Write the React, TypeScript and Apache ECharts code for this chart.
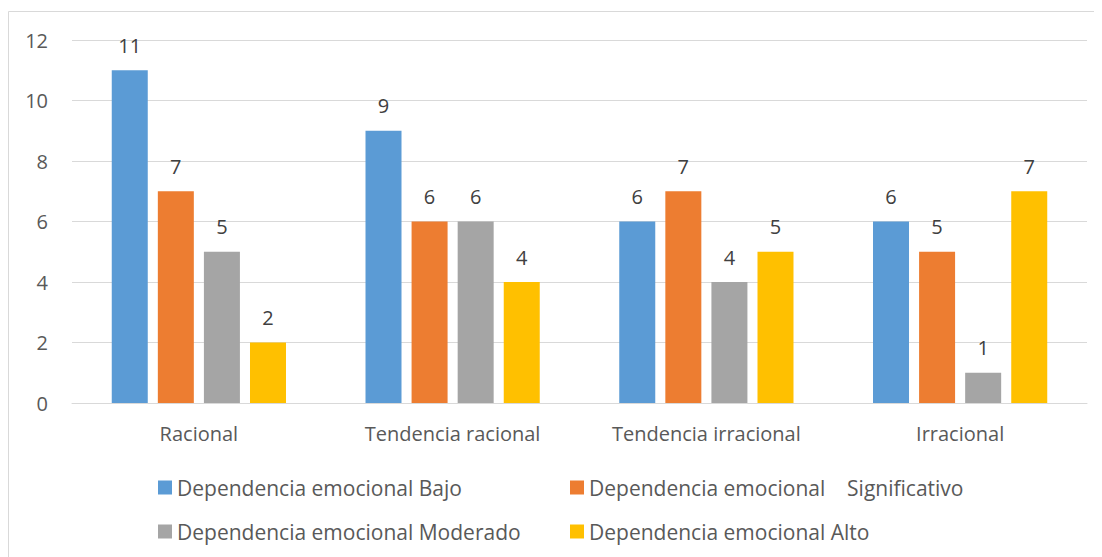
import React, { useEffect, useRef } from "react";
import * as echarts from "echarts";

const categories = ["Racional", "Tendencia racional", "Tendencia irracional", "Irracional"];
const seriesNames = [
  "Dependencia emocional Bajo",
  "Dependencia emocional    Significativo",
  "Dependencia emocional Moderado",
  "Dependencia emocional Alto",
];
const bajo = [11, 9, 6, 6];
const significativo = [7, 6, 7, 5];
const moderado = [5, 6, 4, 1];
const alto = [2, 4, 5, 7];
const yTicks = [0, 2, 4, 6, 8, 10, 12];

const colors = ["#5B9BD5", "#ED7D31", "#A5A5A5", "#FFC000"];
const FONT = "'Open Sans', sans-serif";

export default function App() {
  const ref = useRef<HTMLDivElement>(null);
  useEffect(() => {
    if (!ref.current) return;
    const chart = echarts.init(ref.current, undefined, { renderer: "svg" });
    const values = [bajo, significativo, moderado, alto];
    const legendPos = [
      { left: 150, top: 469 },
      { left: 562, top: 469 },
      { left: 150, top: 513 },
      { left: 562, top: 513 },
    ];
    chart.setOption({
      animation: false,
      color: colors,
      textStyle: { fontFamily: FONT },
      graphic: [
        {
          type: "rect",
          shape: { x: 0.5, y: 3.5, width: 1200, height: 700 },
          style: { fill: "none", stroke: "#d9d9d9", lineWidth: 1 },
          silent: true,
        },
      ],
      grid: { left: 64, right: 15, top: 32, bottom: 154, containLabel: false },
      legend: seriesNames.map((n, i) => ({
        data: [n],
        left: legendPos[i].left,
        top: legendPos[i].top,
        padding: 0,
        icon: "rect",
        itemWidth: 14,
        itemHeight: 14,
        itemGap: 6,
        selectedMode: false,
        textStyle: { color: "#595959", fontSize: 21, fontFamily: FONT },
      })),
      xAxis: {
        type: "category",
        data: categories,
        axisLine: { lineStyle: { color: "#d9d9d9", width: 1 } },
        axisTick: { show: false },
        axisLabel: { color: "#595959", fontSize: 20, margin: 20, fontFamily: FONT },
      },
      yAxis: {
        type: "value",
        min: yTicks[0],
        max: yTicks[yTicks.length - 1],
        interval: 2,
        axisLine: { show: false },
        axisTick: { show: false },
        splitLine: { lineStyle: { color: "#d9d9d9", width: 1 } },
        axisLabel: { color: "#595959", fontSize: 20, margin: 24, fontFamily: FONT },
      },
      series: values.map((v, i) => ({
        type: "bar",
        name: seriesNames[i],
        data: v,
        barWidth: 36,
        barGap: "28%",
        itemStyle: { color: colors[i] },
        label: {
          show: true,
          position: "top",
          distance: 15,
          color: "#404040",
          fontSize: 20,
          fontFamily: FONT,
        },
      })),
    });
    return () => chart.dispose();
  }, []);
  return <div ref={ref} style={{ width: 1094, height: 549 }} />;
}
